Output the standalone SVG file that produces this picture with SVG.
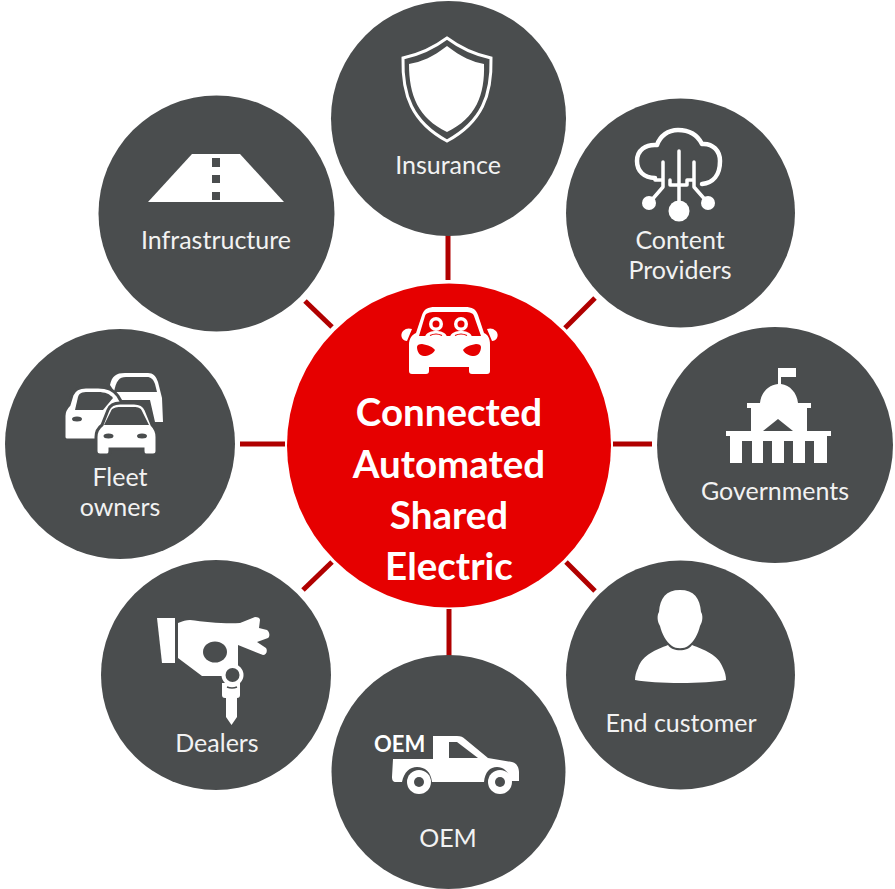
<svg xmlns="http://www.w3.org/2000/svg" width="895" height="889" viewBox="0 0 895 889">
<style>
.n{fill:#4a4d4e}
.t{font-family:"Lato","Open Sans",sans-serif;font-size:25px;fill:#f2f2f2;text-anchor:middle}
.c{font-family:"Lato","Open Sans",sans-serif;font-size:38.5px;font-weight:700;fill:#fff;text-anchor:middle}
.w{fill:#fff}
.d{fill:#4a4d4e}
.r{fill:#e60000}
.o{fill:#fff;stroke:#4a4d4e;stroke-width:3}
.s{fill:none;stroke:#fff;stroke-linecap:round;stroke-linejoin:round}
#connectors line{stroke:#b00000;stroke-width:5}
</style>
<rect width="895" height="889" fill="#fff"/>
<g id="connectors">
<line x1="448" y1="234" x2="448" y2="280"/>
<line x1="449" y1="609" x2="449" y2="656"/>
<line x1="240" y1="444" x2="285" y2="444"/>
<line x1="613" y1="444" x2="652" y2="444"/>
<line x1="305" y1="301" x2="332" y2="327"/>
<line x1="595" y1="298" x2="565" y2="328"/>
<line x1="332" y1="562" x2="303" y2="590"/>
<line x1="566" y1="562" x2="595" y2="591"/>
</g>
<g id="insurance">
<circle class="n" cx="448.5" cy="118.5" r="117.5"/>
<path d="M447 38C431 50 417 55 403 58C402 95 412 122 447 141C482 122 492 95 491 58C477 55 463 50 447 38Z" fill="none" stroke="#fff" stroke-width="3"/>
<path class="w" d="M447 46C433 57 421 62 409 64C409 95 418 118 447 132C476 118 485 95 484 64C473 62 461 57 447 46Z"/>
<text class="t" x="448" y="174">Insurance</text>
</g>
<g id="content-providers">
<circle class="n" cx="680.5" cy="213" r="114.5"/>
<path class="s" stroke-width="4.5" d="M655 178C644 178 637 171 637 161C637 150 646 144 657 145C660 136 668 130 678 130C690 130 698 136 702 144C713 143 720 151 720 161C720 175 713 183 702 184"/>
<path class="s" stroke-width="3.5" d="M679 151V208M663 162V187L650 202M694 162V187L708 203M655 180H663M670 180V185H679M687 180V185H679M687 180H694"/>
<circle class="w" cx="649" cy="203" r="7"/>
<circle class="w" cx="679" cy="211" r="10.5"/>
<circle class="w" cx="708" cy="203" r="7"/>
<text class="t" x="680" y="249">Content</text>
<text class="t" x="680" y="279">Providers</text>
</g>
<g id="governments">
<circle class="n" cx="775" cy="445" r="118"/>
<path class="w" d="M778 368H796V377H781V384C790 385 797 393 798 403H811V408H807V431H831V436H827V463H730V436H726V431H751V408H747V403H760C761 393 768 385 778 384Z"/>
<path class="d" d="M778 419L763 431H793Z"/>
<path class="d" d="M742 441H752V463H742ZM763 441H772V463H763ZM784 441H793V463H784ZM805 441H814V463H805Z"/>
<text class="t" x="775" y="500">Governments</text>
</g>
<g id="end-customer">
<circle class="n" cx="680.5" cy="675" r="114.5"/>
<path class="w" d="M680 590C694 590 700 598 701 612C703 615 703 621 700 626C698 634 694 642 688 646C684 649 676 649 672 646C666 642 662 634 660 626C657 621 657 615 659 612C660 598 666 590 680 590Z"/>
<path class="w" d="M668 645C672 652 688 652 692 645C704 650 718 654 723 668C725 672 726 676 726 680C706 684 655 684 635 680C635 676 636 672 638 668C643 654 656 650 668 645Z"/>
<text class="t" x="681" y="732">End customer</text>
</g>
<g id="oem">
<circle class="n" cx="448.5" cy="772" r="117"/>
<path class="w" d="M393 759H433V736H457C461 736 463 737 465 739L488 758L512 762C517 763 519 768 519 772V781H511C509 772 504 767 497 767C490 767 485 772 484 782H432C431 772 425 767 417 767C410 767 404 772 402 782H396C393 782 392 780 392 777Z"/>
<path class="d" d="M449 742H457L478 758H449Z"/>
<circle class="w" cx="419" cy="782" r="12"/><circle class="d" cx="419" cy="782" r="5"/>
<circle class="w" cx="500" cy="782" r="12"/><circle class="d" cx="500" cy="782" r="5"/>
<text x="374" y="752" style="font-family:'Lato','Open Sans',sans-serif;font-size:22px;font-weight:700;fill:#fff">OEM</text>
<text class="t" x="448" y="847">OEM</text>
</g>
<g id="dealers">
<circle class="n" cx="216" cy="675" r="115"/>
<path class="w" d="M157 618H175V663H162Z"/>
<path class="w" d="M178 623C183 621 186 620 190 620C205 622 225 624 240 623L255 617C258 617 260 618 260 620L259 628L267 630C270 632 270 637 268 638L257 642L266 648C268 651 266 655 263 655L238 645V670H224V676H202L178 658Z"/>
<ellipse class="d" cx="215" cy="652" rx="12" ry="10.5"/>
<path class="w" d="M226 696H237V717L231.5 725L226 717Z"/>
<path class="w" d="M222 683H240V695Q240 698 237 698H225Q222 698 222 695Z"/>
<circle class="w" cx="232.500" cy="675" r="11"/>
<circle class="d" cx="232.500" cy="675" r="7"/>
<path fill="none" stroke="#4a4d4e" stroke-width="1.5" d="M227 687Q232 689 237 687"/>
<text class="t" x="217" y="752">Dealers</text>
</g>
<g id="fleet-owners">
<circle class="n" cx="120" cy="444" r="115"/>
<path class="w" d="M110 385C112 376 116 373 125 373H148C153 373 156 376 158 382L162 398L163 422H155L150 400H120Z"/>
<path class="d" d="M114 392C116 381 119 377 126 377H147C151 377 153 379 155 384L157 392Z"/>
<path class="o" d="M64 438V416C64 410 67 407 69 405L72 395C74 390 78 387 86 387H98C108 387 114 390 118 396L122 403L110 440H66Z"/>
<path class="d" d="M75 410L78 397C79 393 82 392 88 392H98C105 392 110 394 113 398L103 410Z"/>
<ellipse class="d" cx="77" cy="419" rx="5" ry="2.5"/>
<path class="o" d="M96 437C96 431 98 428 102 425L108 410C110 405 114 403 120 403H134C140 403 144 405 146 410L152 425C155 428 157 431 157 437V451Q157 455 153 455H146Q143 455 143 451V449H110V451Q110 455 107 455H100Q96 455 96 451Z"/>
<path class="d" d="M104 425L111 411C112 408 116 407 120 407H134C138 407 141 408 142 411L149 425Z"/>
<ellipse class="d" cx="108.500" cy="436" rx="5" ry="2.5"/>
<ellipse class="d" cx="142" cy="436" rx="5" ry="2.5"/>
<text class="t" x="120" y="486">Fleet</text>
<text class="t" x="120" y="516">owners</text>
</g>
<g id="infrastructure">
<circle class="n" cx="216.5" cy="213.5" r="118"/>
<path class="w" d="M192 154H240L284 202H148Z"/>
<path class="d" d="M212 158H220V167H212ZM212 175H220V183H212ZM212 192H220V200H212Z"/>
<text class="t" x="216" y="249">Infrastructure</text>
</g>
<g id="center">
<circle class="r" cx="449" cy="445.5" r="162"/>
<path class="w" d="M409 345C409 338 412 335 416 333L422 315C424 309 428 307 435 307H465C472 307 476 309 478 315L484 333C488 335 490 338 490 345V371Q490 374 487 374H472Q469 374 469 371V367H429V371Q429 374 426 374H412Q409 374 409 371Z"/>
<path class="w" d="M403 331C406 328 409 328 412 329L407 341C403 341 399 336 403 331ZM496 331C493 328 490 328 487 329L492 341C496 341 500 336 496 331Z"/>
<path class="r" d="M419 336L425 316C426 313 429 312 435 312H465C470 312 473 313 474 316L481 336Z"/>
<circle class="w" cx="436" cy="324" r="7"/><circle class="r" cx="436" cy="324" r="3.5"/>
<circle class="w" cx="461" cy="324" r="7"/><circle class="r" cx="461" cy="324" r="3.5"/>
<path class="w" d="M425 337C426 332 432 331 436 331C440 331 446 332 447 337ZM450 337C451 332 457 331 461 331C465 331 471 332 472 337Z"/>
<path d="M430 335.5Q436 332.5 442 335.5M455 335.5Q461 332.5 467 335.5" fill="none" stroke="#e60000" stroke-width="1.2"/>
<path class="r" d="M417 347C417 345 419 344 422 344C428 345 433 347 435 350C433 354 428 356 424 356C420 356 417 352 417 347ZM481 347C481 345 479 344 476 344C470 345 465 347 463 350C465 354 470 356 474 356C478 356 481 352 481 347Z"/>
<text class="c" x="449" y="426">Connected</text>
<text class="c" x="449" y="478">Automated</text>
<text class="c" x="449" y="529">Shared</text>
<text class="c" x="449" y="580">Electric</text>
</g>
</svg>
